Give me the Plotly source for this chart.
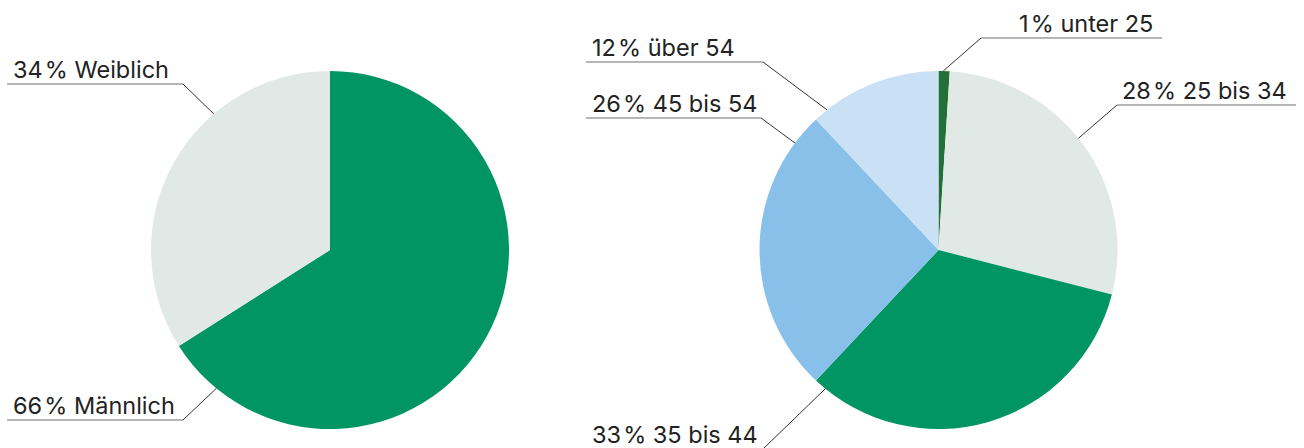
import math
import plotly.graph_objects as go

# ---------------- data ----------------
gender_labels = ["Männlich", "Weiblich"]
gender_values = [66, 34]
gender_colors = ["#009562", "#e1e9e7"]

age_labels = ["unter 25", "25 bis 34", "35 bis 44", "45 bis 54", "über 54"]
age_values = [1, 28, 33, 26, 12]
age_colors = ["#236f38", "#e1e9e7", "#009562", "#88c0ea", "#c9e0f5"]

# ---------------- layout constants ----------------
W, H = 1304, 448
R = 179
CENTERS = [(330, 250), (938.5, 250)]
FONT = "Inter"
FS = 23.5
TXT = "#222222"

# leader settings per label: (anchor angle clockwise from 12 o'clock, underline y,
#                              underline x0, x1, elbow side, text align)
gender_leaders = {
    "Männlich": (219.4, 420, 7, 183, "right", "left"),
    "Weiblich": (319.5, 84, 7, 183, "right", "left"),
}
age_leaders = {
    "unter 25": (1.5, 38, 981, 1162, "left", "right"),
    "25 bis 34": (51.4, 105, 1117, 1296, "left", "right"),
    "35 bis 44": (219.2, 449, 586, 763, "right", "left"),
    "45 bis 54": (306.7, 118, 586, 761, "right", "left"),
    "über 54": (321.5, 62, 586, 763, "right", "left"),
}

fig = go.Figure()


def domain(cx, cy):
    return dict(x=[(cx - R) / W, (cx + R) / W], y=[(H - cy - R) / H, (H - cy + R) / H])


for (cx, cy), labels, values, colors in [
    (CENTERS[0], gender_labels, gender_values, gender_colors),
    (CENTERS[1], age_labels, age_values, age_colors),
]:
    fig.add_trace(go.Pie(
        labels=labels, values=values, sort=False, direction="clockwise", rotation=0,
        marker=dict(colors=colors, line=dict(width=0)), textinfo="none",
        hovertemplate="%{label}: %{value}%<extra></extra>",
        domain=domain(cx, cy), showlegend=False,
    ))

shapes, annotations = [], []


def add_leaders(center, labels, values, leaders):
    cx, cy = center
    for lab, val in zip(labels, values):
        ang, uy, x0, x1, elbow, align = leaders[lab]
        a = math.radians(ang)
        px = cx + R * math.sin(a)
        py = cy - R * math.cos(a)
        ex = x1 if elbow == "right" else x0
        shapes.append(dict(type="line", xref="paper", yref="paper",
                           x0=x0 / W, x1=x1 / W, y0=(H - uy) / H, y1=(H - uy) / H,
                           line=dict(color="#6e6e6e", width=1.2)))
        shapes.append(dict(type="line", xref="paper", yref="paper",
                           x0=ex / W, x1=px / W, y0=(H - uy) / H, y1=(H - py) / H,
                           line=dict(color="#333333", width=1)))
        text = f"{val}\u200a% {lab}"
        if align == "left":
            tx, xa = x0 + 4, "left"
        else:
            tx, xa = x1 - 7, "right"
        annotations.append(dict(xref="paper", yref="paper", x=tx / W, y=(H - uy - 2) / H,
                                text=text, xanchor=xa, yanchor="bottom", showarrow=False,
                                font=dict(family=FONT, size=FS, color=TXT)))


add_leaders(CENTERS[0], gender_labels, gender_values, gender_leaders)
add_leaders(CENTERS[1], age_labels, age_values, age_leaders)

fig.update_layout(
    width=W, height=H, margin=dict(l=0, r=0, t=0, b=0),
    paper_bgcolor="white", plot_bgcolor="rgba(0,0,0,0)",
    xaxis=dict(visible=False, fixedrange=True),
    yaxis=dict(visible=False, fixedrange=True),
    shapes=shapes, annotations=annotations,
)

fig.write_html("out.html", config={"displayModeBar": False},
               post_script="document.body.style.margin='0px';document.body.style.overflow='hidden';")
